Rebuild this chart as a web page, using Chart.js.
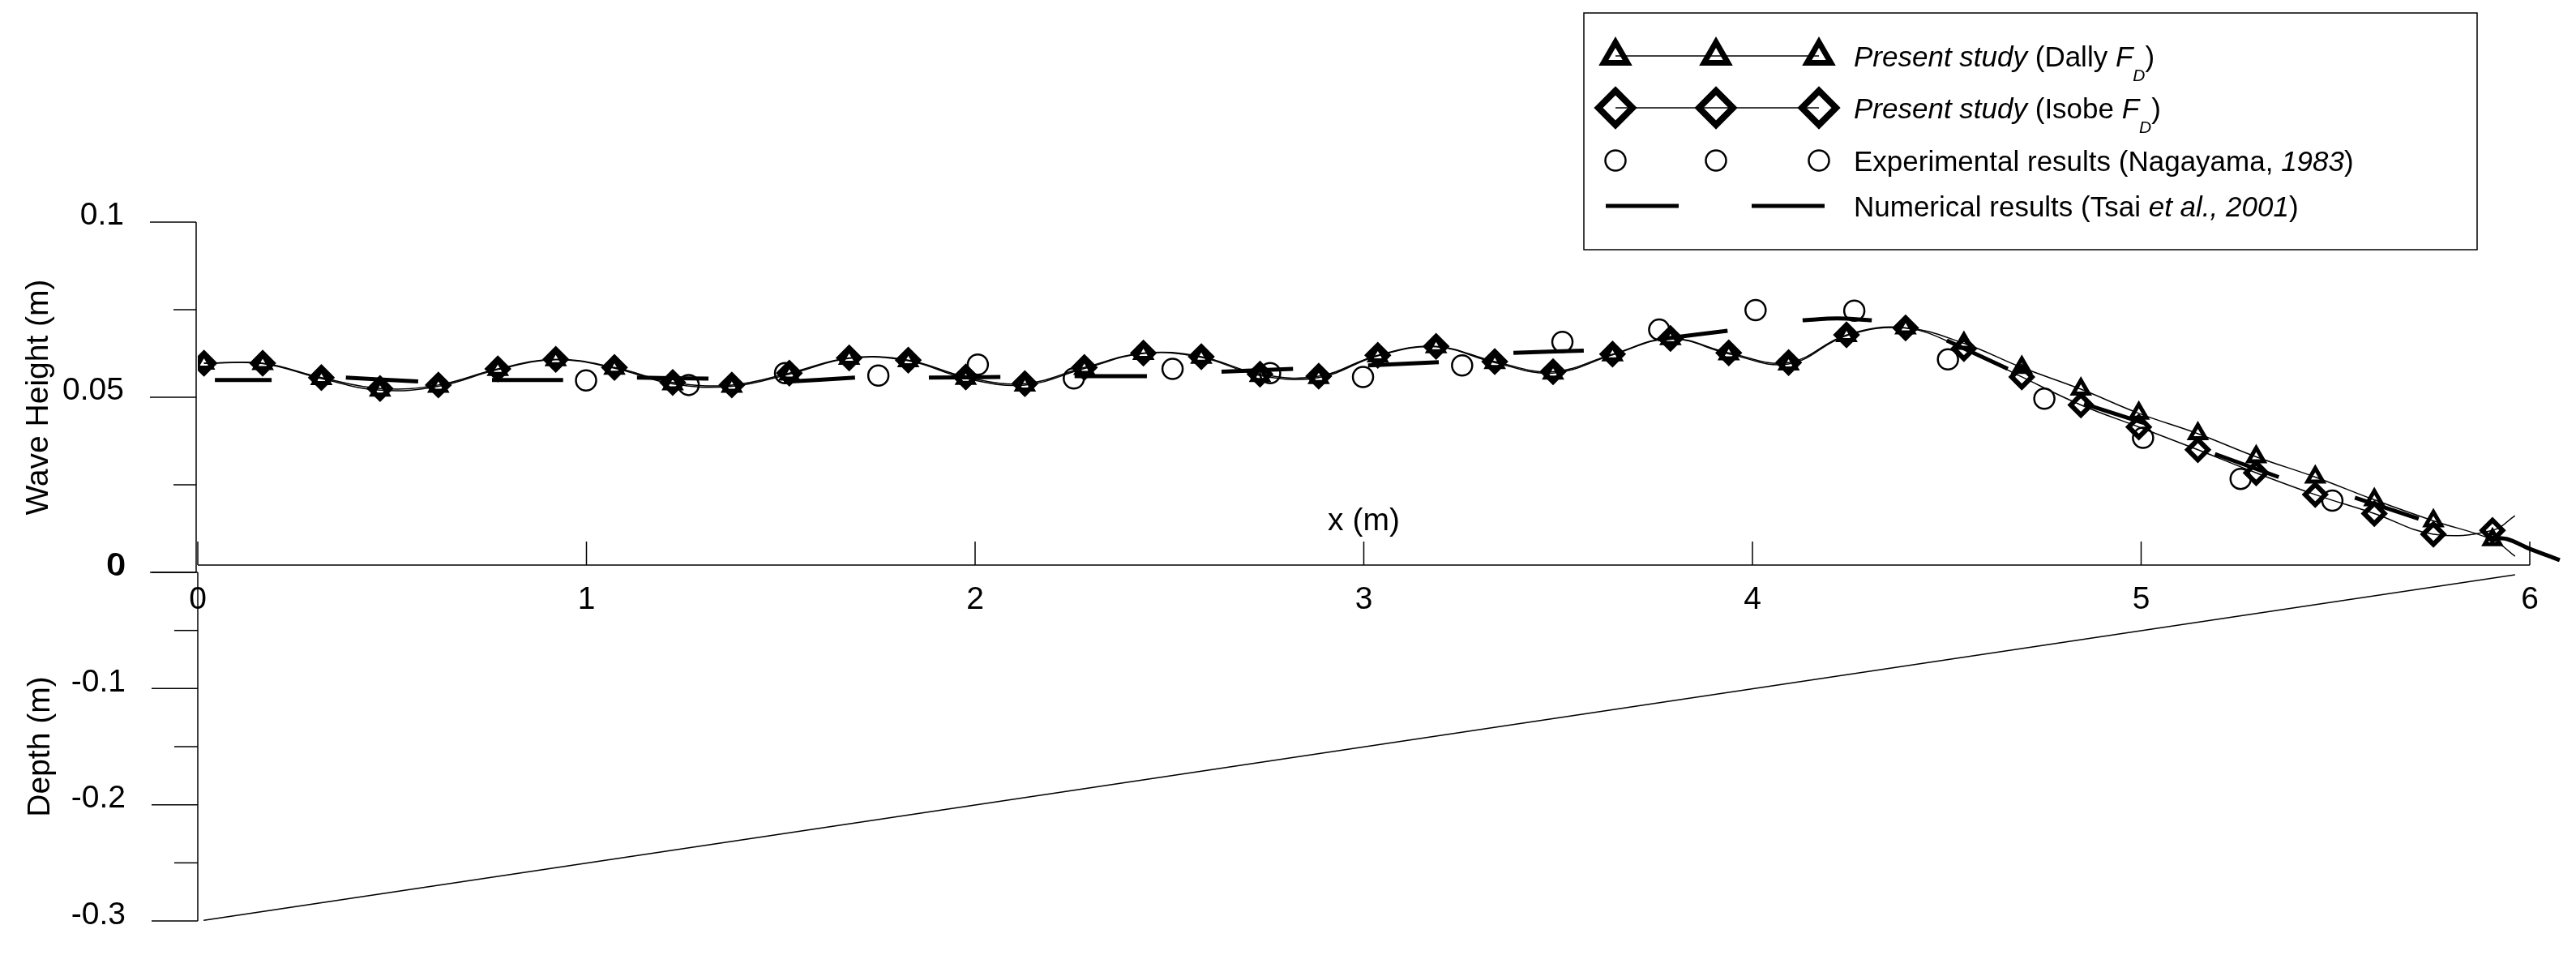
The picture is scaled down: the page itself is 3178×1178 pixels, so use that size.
<!DOCTYPE html>
<html>
<head>
<meta charset="utf-8">
<script src="https://cdn.jsdelivr.net/npm/chart.js@4.4.0/dist/chart.umd.min.js"></script>
<style>
  html, body { margin: 0; background: #fff; }
  #wrap { position: relative; width: 3178px; height: 1178px; }
</style>
</head>
<body>
<div id="wrap"><canvas id="waveChart" width="3178" height="1178"></canvas></div>
<script>
// axis ticks
const xTicks = [0, 1, 2, 3, 4, 5, 6];
const heightTicks = [0, 0.05, 0.1];
const heightMinor = [0.025, 0.075];
const depthTicks = [-0.3, -0.2, -0.1, 0];
const depthMinor = [-0.25, -0.15, -0.05];

// present study: model output, marker every ~0.15 m, last entry is the line end (no marker)
const modelX = [0.016, 0.167, 0.318, 0.469, 0.619, 0.772, 0.921, 1.072, 1.222, 1.374,
  1.522, 1.676, 1.828, 1.976, 2.128, 2.281, 2.433, 2.582, 2.733, 2.884,
  3.036, 3.186, 3.337, 3.487, 3.640, 3.789, 3.939, 4.093, 4.242, 4.394,
  4.544, 4.693, 4.845, 4.994, 5.146, 5.296, 5.448, 5.600, 5.752, 5.904, 5.962];
const isobeH = [0.0597, 0.0597, 0.0556, 0.0525, 0.0535, 0.0581, 0.0608, 0.0585, 0.0542, 0.0535,
  0.0569, 0.0612, 0.0606, 0.0558, 0.0539, 0.0585, 0.0626, 0.0616, 0.0566, 0.0560,
  0.0620, 0.0645, 0.0602, 0.0573, 0.0623, 0.0668, 0.0627, 0.0599, 0.0678, 0.0698,
  0.0639, 0.0558, 0.0478, 0.0415, 0.0350, 0.0284, 0.0222, 0.0168, 0.0109, 0.0120, 0.0162];
const dallyH = [0.0597, 0.0596, 0.0553, 0.0520, 0.0531, 0.0579, 0.0607, 0.0583, 0.0538, 0.0531,
  0.0566, 0.0611, 0.0604, 0.0554, 0.0535, 0.0582, 0.0625, 0.0614, 0.0562, 0.0556,
  0.0618, 0.0644, 0.0599, 0.0569, 0.0621, 0.0667, 0.0624, 0.0595, 0.0676, 0.0698,
  0.0654, 0.0585, 0.0523, 0.0454, 0.0396, 0.0330, 0.0272, 0.0207, 0.0147, 0.0093, 0.0046];

// Nagayama (1983) experiments
const expX = [0.999, 1.263, 1.511, 1.751, 2.007, 2.254, 2.508, 2.759, 2.998, 3.253,
  3.511, 3.760, 4.008, 4.262, 4.503, 4.751, 5.005, 5.256, 5.492];
const expH = [0.0548, 0.0535, 0.0569, 0.0562, 0.0593, 0.0554, 0.0581, 0.0569, 0.0558, 0.0591,
  0.0658, 0.0693, 0.0749, 0.0747, 0.0608, 0.0496, 0.0384, 0.0267, 0.0205];

// Tsai et al. (2001), one entry per visible dash
const tsaiDashX = [[0.044, 0.190], [0.381, 0.567], [0.757, 0.940], [1.130, 1.314], [1.508, 1.691],
  [1.881, 2.065], [2.256, 2.442], [2.634, 2.818], [3.011, 3.193], [3.385, 3.566],
  [3.757, 3.936], [4.129, 4.218, 4.307], [4.500, 4.657], [4.853, 5.006], [5.190, 5.354],
  [5.550, 5.714], [5.887, 5.942, 5.998, 6.077]];
const tsaiDashH = [[0.0549, 0.0549], [0.0556, 0.0545], [0.0549, 0.0549], [0.0556, 0.0553], [0.0544, 0.0556],
  [0.0556, 0.0558], [0.0560, 0.0560], [0.0573, 0.0581], [0.0591, 0.0600], [0.0627, 0.0633],
  [0.0665, 0.0690], [0.0720, 0.0725, 0.0720], [0.0662, 0.0581], [0.0481, 0.0427], [0.0338, 0.0272],
  [0.0213, 0.0153], [0.0100, 0.0095, 0.0068, 0.0035]];

// sloping bed
const bedX = [0.015, 5.962];
const bedDepth = [-0.2995, -0.0021];

const FONT = "'Liberation Sans', Arial, sans-serif";
const markerCount = modelX.length - 1;

const pts = (xs, ys) => xs.map((x, i) => ({ x, y: ys[i] }));
const tsaiData = [];
tsaiDashX.forEach((xs, i) => {
  xs.forEach((x, j) => tsaiData.push({ x, y: tsaiDashH[i][j] }));
  tsaiData.push({ x: xs[xs.length - 1], y: null });
});

function strokeShape(ctx, style, radius, width, x, y) {
  ctx.save();
  ctx.strokeStyle = '#000';
  ctx.fillStyle = 'rgba(0,0,0,0)';
  ctx.lineWidth = width;
  Chart.helpers.drawPoint(ctx, { pointStyle: style, radius, borderWidth: width, rotation: 0 }, x, y);
  ctx.restore();
}

function drawRich(ctx, parts, x, y, size) {
  for (const [t, s] of parts) {
    const sub = s === 'sub';
    ctx.font = `${s === 'i' || sub ? 'italic ' : ''}${sub ? Math.round(size * 0.6) : size}px ${FONT}`;
    ctx.fillText(t, x, sub ? y + size * 0.5 : y);
    x += ctx.measureText(t).width;
  }
}

const legendRows = [
  [['Present study', 'i'], [' (Dally ', 'n'], ['F', 'i'], ['D', 'sub'], [')', 'n']],
  [['Present study', 'i'], [' (Isobe ', 'n'], ['F', 'i'], ['D', 'sub'], [')', 'n']],
  [['Experimental results (Nagayama, ', 'n'], ['1983', 'i'], [')', 'n']],
  [['Numerical results (Tsai ', 'n'], ['et al.,', 'i'], [' ', 'n'], ['2001', 'i'], [')', 'n']]
];

const axesPlugin = {
  id: 'axesPlugin',
  afterDraw(chart) {
    const { ctx } = chart;
    const { x, yH, yD } = chart.scales;
    const left = x.getPixelForValue(0);
    const hAxis = left - 2;
    ctx.save();
    ctx.strokeStyle = '#000';
    ctx.fillStyle = '#000';
    ctx.lineWidth = 1.5;
    const line = (x1, y1, x2, y2) => { ctx.beginPath(); ctx.moveTo(x1, y1); ctx.lineTo(x2, y2); ctx.stroke(); };

    // wave height axis
    line(hAxis, yH.getPixelForValue(0.1), hAxis, yH.getPixelForValue(0));
    heightTicks.forEach(v => line(hAxis - 57, yH.getPixelForValue(v), hAxis, yH.getPixelForValue(v)));
    heightMinor.forEach(v => line(hAxis - 28, yH.getPixelForValue(v), hAxis, yH.getPixelForValue(v)));
    // depth axis
    line(left, yD.getPixelForValue(0), left, yD.getPixelForValue(-0.3));
    depthTicks.forEach(v => line(left - 57, yD.getPixelForValue(v), left, yD.getPixelForValue(v)));
    depthMinor.forEach(v => line(left - 29, yD.getPixelForValue(v), left, yD.getPixelForValue(v)));

    ctx.font = `39px ${FONT}`;
    ctx.textAlign = 'right';
    ctx.textBaseline = 'middle';
    heightTicks.forEach(v => ctx.fillText(String(v), hAxis - 89, yH.getPixelForValue(v) - 8));
    depthTicks.forEach(v => ctx.fillText(String(v), left - 89, yD.getPixelForValue(v) - 7));

    // x axis, drawn just above the wave height zero line with inward ticks
    const ax = yH.getPixelForValue(0) - 9;
    line(x.getPixelForValue(0), ax, x.getPixelForValue(6), ax);
    xTicks.forEach(v => line(x.getPixelForValue(v), ax - 29, x.getPixelForValue(v), ax));
    ctx.textAlign = 'center';
    xTicks.forEach(v => ctx.fillText(String(v), x.getPixelForValue(v), ax + 43));
    ctx.fillText('x (m)', (x.left + x.right) / 2, ax - 54);

    // y titles
    ctx.save();
    ctx.translate(48, (yH.top + yH.bottom) / 2);
    ctx.rotate(-Math.PI / 2);
    ctx.fillText('Wave Height (m)', 0, 0);
    ctx.restore();
    ctx.save();
    ctx.translate(50, (yD.top + yD.bottom) / 2);
    ctx.rotate(-Math.PI / 2);
    ctx.fillText('Depth (m)', 0, 0);
    ctx.restore();

    // legend
    const bx = 1954, by = 16, bw = 1102, bh = 292;
    ctx.fillStyle = '#fff';
    ctx.fillRect(bx, by, bw, bh);
    ctx.fillStyle = '#000';
    ctx.strokeRect(bx, by, bw, bh);
    const rowY = [69, 133, 198, 254];
    const mx = [1993, 2117, 2244];
    line(mx[0], rowY[0], mx[2], rowY[0]);
    mx.forEach(m => strokeShape(ctx, 'triangle', 17, 7, m, rowY[0]));
    line(mx[0], rowY[1], mx[2], rowY[1]);
    mx.forEach(m => strokeShape(ctx, 'rectRot', 21, 8, m, rowY[1]));
    mx.forEach(m => strokeShape(ctx, 'circle', 12.5, 2.5, m, rowY[2]));
    ctx.lineWidth = 5;
    ctx.lineCap = 'butt';
    line(1981, rowY[3], 2071, rowY[3]);
    line(2161, rowY[3], 2251, rowY[3]);
    ctx.textAlign = 'left';
    ctx.textBaseline = 'alphabetic';
    legendRows.forEach((parts, i) => drawRich(ctx, parts, 2287, rowY[i] + 13, 35));
    ctx.restore();
  }
};

new Chart(document.getElementById('waveChart'), {
  type: 'line',
  data: {
    datasets: [
      {
        label: 'Numerical results (Tsai et al., 2001)',
        data: tsaiData, yAxisID: 'yH', borderColor: '#000', borderWidth: 5,
        borderCapStyle: 'butt', pointRadius: 0, spanGaps: false, clip: false, tension: 0.3
      },
      {
        label: 'Experimental results (Nagayama, 1983)',
        data: pts(expX, expH), yAxisID: 'yH', showLine: false, pointStyle: 'circle',
        pointRadius: 12.5, pointBorderWidth: 2.5, pointBorderColor: '#000', pointBackgroundColor: 'rgba(0,0,0,0)'
      },
      {
        label: 'Present study (Dally FD)',
        data: pts(modelX, dallyH), yAxisID: 'yH', borderColor: '#000', borderWidth: 1.5, tension: 0.4,
        pointStyle: 'triangle', pointRadius: c => c.dataIndex < markerCount ? 11 : 0,
        pointBorderWidth: 5, pointBorderColor: '#000', pointBackgroundColor: 'rgba(0,0,0,0)'
      },
      {
        label: 'Present study (Isobe FD)',
        data: pts(modelX, isobeH), yAxisID: 'yH', borderColor: '#000', borderWidth: 1.5, tension: 0.4,
        pointStyle: 'rectRot', pointRadius: c => c.dataIndex < markerCount ? 12.5 : 0,
        pointBorderWidth: 6, pointBorderColor: '#000', pointBackgroundColor: 'rgba(0,0,0,0)'
      },
      {
        label: 'Bed',
        data: pts(bedX, bedDepth), yAxisID: 'yD', borderColor: '#000', borderWidth: 1.5, pointRadius: 0
      }
    ]
  },
  options: {
    responsive: false,
    devicePixelRatio: 1,
    animation: false,
    layout: { padding: { left: 244, right: 57, top: 274, bottom: 42 } },
    plugins: { legend: { display: false }, tooltip: { enabled: false } },
    scales: {
      x: { type: 'linear', min: 0, max: 6, display: false },
      yH: { type: 'linear', position: 'left', stack: 'profile', stackWeight: 432, weight: 2, min: 0, max: 0.1, display: false },
      yD: { type: 'linear', position: 'left', stack: 'profile', stackWeight: 430, weight: 1, min: -0.3, max: 0, display: false }
    }
  },
  plugins: [axesPlugin]
});
</script>
</body>
</html>
